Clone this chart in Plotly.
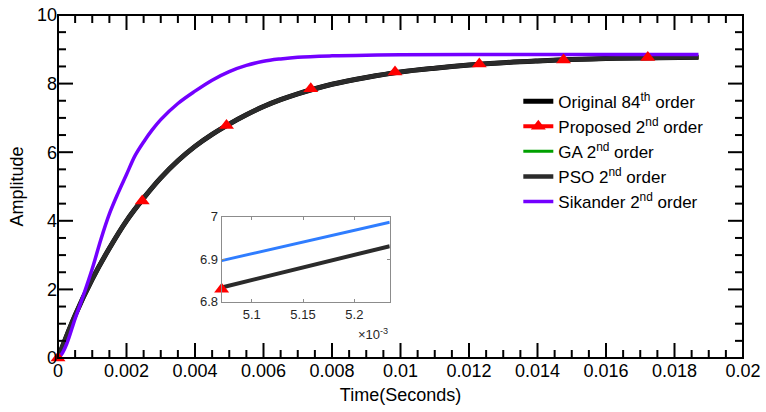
import plotly.graph_objects as go

# ---- main curves ----
t_main = [0, 0.0005, 0.001, 0.0015, 0.002, 0.0025, 0.003, 0.0035, 0.004, 0.0045,
          0.005, 0.0055, 0.006, 0.0065, 0.007, 0.0075, 0.008, 0.009, 0.010, 0.011,
          0.012, 0.013, 0.014, 0.015, 0.016, 0.017, 0.0187]
original_y = [0.0, 1.25, 2.3, 3.2, 4.0, 4.66, 5.25, 5.75, 6.17, 6.52,
              6.82, 7.09, 7.33, 7.53, 7.7, 7.85, 7.98, 8.18, 8.34, 8.45,
              8.54, 8.61, 8.66, 8.70, 8.73, 8.75, 8.77]
proposed_y = original_y
ga_y = original_y
pso_y = original_y

t_sik = [0, 0.0001, 0.00025, 0.0005, 0.00075, 0.001, 0.00125, 0.0015, 0.00175, 0.002,
         0.00225, 0.0025, 0.00275, 0.003, 0.0035, 0.004, 0.0045, 0.005, 0.0055, 0.006,
         0.0065, 0.007, 0.008, 0.009, 0.010, 0.012, 0.0187]
sikander_y = [0.0, 0.1, 0.4, 1.15, 1.85, 2.6, 3.45, 4.2, 4.8, 5.35,
              5.9, 6.3, 6.65, 6.95, 7.42, 7.78, 8.1, 8.35, 8.53, 8.65,
              8.72, 8.77, 8.81, 8.83, 8.84, 8.85, 8.85]

# proposed model markers
t_marks = [0, 0.00246, 0.00492, 0.00738, 0.00984, 0.0123, 0.01476, 0.01722]
y_marks = [0.0, 4.58, 6.78, 7.85, 8.34, 8.57, 8.69, 8.76]

# ---- inset ----
inset_t = [0.0050707, 0.0052345]
inset_black = [6.834, 6.931]
inset_blue = [6.897, 6.987]
inset_mark_t = [0.0050707]
inset_mark_y = [6.83]
inset_xticks = [0.0051, 0.00515, 0.0052]
inset_xticktext = ["5.1", "5.15", "5.2"]
inset_yticks = [6.8, 6.9, 7.0]
inset_yticktext = ["6.8", "6.9", "7"]

# main axis tick positions
x_major = [0, 0.002, 0.004, 0.006, 0.008, 0.01, 0.012, 0.014, 0.016, 0.018, 0.02]
y_major = [0, 2, 4, 6, 8, 10]
x_minor = [i * 0.0005 for i in range(41) if i % 4 != 0]
y_minor = [i * 0.5 for i in range(21) if i % 4 != 0]

RED = "#ff0000"
PURPLE = "#7300ff"
GREEN = "#00a000"
DARK = "#2b2b2b"
BLUE = "#2f7dff"

fig = go.Figure()
fig.add_trace(go.Scatter(x=t_main, y=original_y, mode="lines",
                         line=dict(color="black", width=5, shape="spline"),
                         name="Original 84<sup>th</sup> order"))
fig.add_trace(go.Scatter(x=t_main, y=proposed_y, mode="lines",
                         line=dict(color=RED, width=3, shape="spline"), showlegend=False))
fig.add_trace(go.Scatter(x=[-1, -1], y=[-1, -1], mode="lines+markers", line=dict(color=RED, width=4),
                         marker=dict(symbol="triangle-up", size=13, color=RED),
                         name="Proposed 2<sup>nd</sup> order"))
fig.add_trace(go.Scatter(x=t_main, y=ga_y, mode="lines",
                         line=dict(color=GREEN, width=3, shape="spline"),
                         name="GA 2<sup>nd</sup> order"))
fig.add_trace(go.Scatter(x=t_main, y=pso_y, mode="lines",
                         line=dict(color=DARK, width=4.5, shape="spline"),
                         name="PSO 2<sup>nd</sup> order"))
fig.add_trace(go.Scatter(x=t_sik, y=sikander_y, mode="lines",
                         line=dict(color=PURPLE, width=3.5, shape="spline"),
                         name="Sikander 2<sup>nd</sup> order"))
fig.add_trace(go.Scatter(x=t_marks, y=y_marks, mode="markers",
                         marker=dict(symbol="triangle-up", size=13, color=RED),
                         showlegend=False, cliponaxis=False))

# inset traces
fig.add_trace(go.Scatter(x=inset_t, y=inset_blue, mode="lines", line=dict(color=BLUE, width=3),
                         xaxis="x2", yaxis="y2", showlegend=False))
fig.add_trace(go.Scatter(x=inset_t, y=inset_black, mode="lines", line=dict(color=DARK, width=4),
                         xaxis="x2", yaxis="y2", showlegend=False))
fig.add_trace(go.Scatter(x=inset_mark_t, y=inset_mark_y, mode="markers",
                         marker=dict(symbol="triangle-up", size=13, color=RED),
                         xaxis="x2", yaxis="y2", showlegend=False, cliponaxis=False))

FONT = "Arial"

fig.update_layout(
    template="none",
    width=766, height=412,
    margin=dict(l=58, r=23, t=15, b=54),
    plot_bgcolor="#ffffff", paper_bgcolor="#fff",
    font=dict(family=FONT, color="black"),
    showlegend=True,
    legend=dict(x=0.672, y=0.80, xanchor="left", yanchor="top",
                bgcolor="rgba(255,255,255,0)", borderwidth=0,
                font=dict(size=17, color="black")),
    xaxis=dict(
        range=[0, 0.02], dtick=0.002, tick0=0,
        showline=False, ticks="", showgrid=False, zeroline=False,
        tickfont=dict(size=18, color="black"),
        title=dict(text="Time(Seconds)", font=dict(size=18, color="black"), standoff=8),
    ),
    yaxis=dict(
        range=[0, 10], dtick=2, tick0=0,
        showline=False, ticks="", showgrid=False, zeroline=False,
        tickfont=dict(size=18, color="black"),
        title=dict(text="Amplitude", font=dict(size=18, color="black"), standoff=8),
    ),
    xaxis2=dict(domain=[0.2389, 0.4843], anchor="y2", range=[inset_t[0], inset_t[1]],
                tickmode="array", tickvals=inset_xticks, ticktext=inset_xticktext,
                showline=True, linecolor="#8c8c8c", linewidth=1, mirror="ticks",
                ticks="inside", ticklen=3, tickcolor="#8c8c8c", showgrid=False, zeroline=False,
                tickfont=dict(size=13, color="#262626")),
    yaxis2=dict(domain=[0.1635, 0.4117], anchor="x2", range=[6.8, 7.0],
                tickmode="array", tickvals=inset_yticks, ticktext=inset_yticktext,
                showline=True, linecolor="#8c8c8c", linewidth=1, mirror="ticks",
                ticks="inside", ticklen=3, tickcolor="#8c8c8c", showgrid=False, zeroline=False,
                tickfont=dict(size=13, color="#262626")),
)

# frame and inward ticks of the main axes (positions taken from the axis scale)
tick_line = dict(color="black", width=2)
shapes = [dict(type="rect", xref="paper", yref="paper", x0=0, x1=1, y0=0, y1=1,
               line=dict(color="black", width=2), fillcolor="rgba(0,0,0,0)", layer="above")]
for tv_list, ln in ((x_major, 15), (x_minor, 8)):
    for tv in tv_list:
        shapes.append(dict(type="line", xref="x", yref="paper", x0=tv, x1=tv,
                           ysizemode="pixel", yanchor=0, y0=0, y1=ln, line=tick_line))
        shapes.append(dict(type="line", xref="x", yref="paper", x0=tv, x1=tv,
                           ysizemode="pixel", yanchor=1, y0=0, y1=-ln, line=tick_line))
for tv_list, ln in ((y_major, 15), (y_minor, 8)):
    for tv in tv_list:
        shapes.append(dict(type="line", xref="paper", yref="y", y0=tv, y1=tv,
                           xsizemode="pixel", xanchor=0, x0=0, x1=ln, line=tick_line))
        shapes.append(dict(type="line", xref="paper", yref="y", y0=tv, y1=tv,
                           xsizemode="pixel", xanchor=1, x0=0, x1=-ln, line=tick_line))
fig.update_layout(shapes=shapes)

fig.add_annotation(text="\u00d710<sup>-3</sup>", xref="paper", yref="paper",
                   x=0.4843, y=0.1635, xanchor="right", yanchor="top", yshift=-22,
                   showarrow=False, font=dict(size=13, color="#262626"))

fig.write_html("out.html")
